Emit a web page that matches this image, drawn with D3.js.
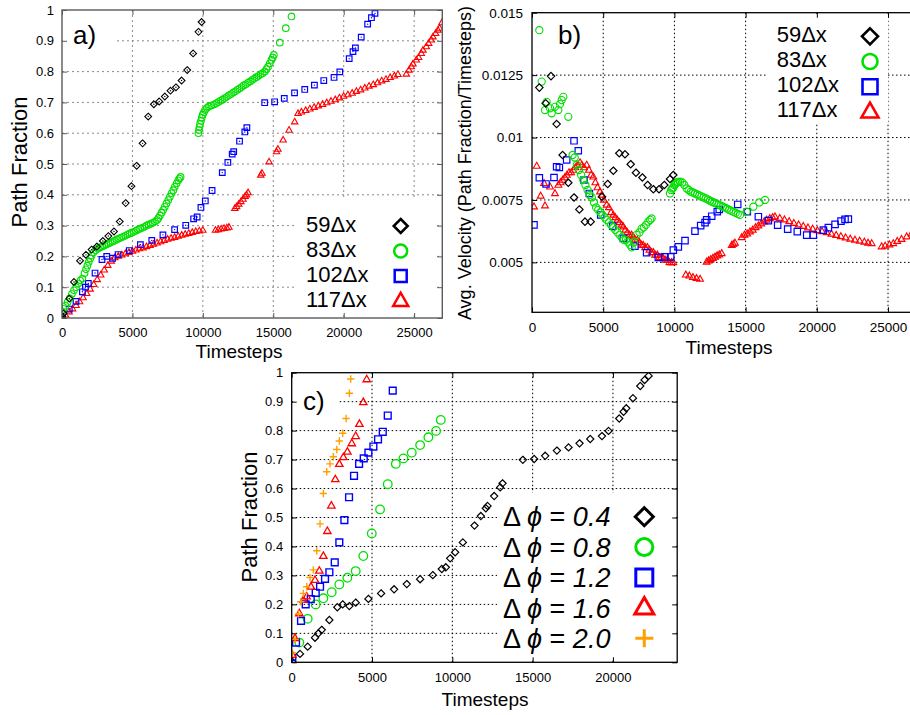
<!DOCTYPE html>
<html>
<head>
<meta charset="utf-8">
<script src="https://cdn.jsdelivr.net/npm/d3@7"></script>
<style>
  body { margin: 0; background: #fff; }
  svg { display: block; }
</style>
</head>
<body>
<script>
// ---------- data: [timestep, value] ----------

// a) path fraction vs. timesteps for four domain sizes
const frac59 = [[0,0.005],[100,0.015],[520,0.063],[850,0.117],[1280,0.186],[1700,0.205],[2100,0.222],[2480,0.232],[2900,0.25],[3290,0.266],[3690,0.281],[4100,0.313],[4520,0.373],[4930,0.428],[5300,0.494],[5720,0.567],[6120,0.654],[6520,0.694],[6900,0.703],[7300,0.719],[7700,0.738],[8090,0.749],[8490,0.771],[8890,0.805],[9310,0.859],[9690,0.929],[9910,0.961]];

const frac83 = [[0,0.02],[100,0.03],[250,0.04],[400,0.052],[550,0.064],[700,0.078],[850,0.09],[1000,0.1],[1150,0.112],[1300,0.122],[1450,0.128],[1600,0.145],[1700,0.158],[1800,0.17],[1900,0.182],[2000,0.193],[2100,0.203],[2250,0.213],[2400,0.22],[2550,0.225],[2700,0.229],[2850,0.232],[3000,0.235],[3150,0.239],[3300,0.242],[3450,0.245],[3600,0.248],[3750,0.251],[3900,0.255],[4050,0.258],[4200,0.261],[4350,0.264],[4500,0.267],[4650,0.271],[4800,0.274],[4950,0.277],[5100,0.28],[5250,0.283],[5400,0.287],[5550,0.29],[5700,0.293],[5850,0.296],[6000,0.3],[6150,0.303],[6300,0.306],[6450,0.309],[6600,0.313],[6750,0.318],[6850,0.325],[6950,0.333],[7070,0.342],[7180,0.351],[7300,0.361],[7420,0.372],[7540,0.383],[7660,0.394],[7780,0.405],[7900,0.415],[8010,0.426],[8130,0.437],[8250,0.447],[8340,0.453],[8420,0.458],
[9680,0.6],[9720,0.61],[9760,0.62],[9800,0.63],[9860,0.64],[9920,0.65],[9990,0.66],[10070,0.668],[10160,0.675],[10280,0.682],[10430,0.687],[10600,0.69],[10780,0.693],[10950,0.697],[11100,0.701],[11250,0.705],[11400,0.709],[11550,0.714],[11700,0.718],[11850,0.723],[12000,0.727],[12150,0.732],[12300,0.736],[12450,0.741],[12600,0.745],[12750,0.75],[12900,0.755],[13050,0.759],[13200,0.764],[13350,0.768],[13500,0.773],[13650,0.777],[13800,0.782],[13950,0.786],[14100,0.791],[14250,0.795],[14400,0.8],[14520,0.808],[14630,0.816],[14750,0.827],[14870,0.838],[14960,0.846],[15040,0.854],[15460,0.894],[15890,0.941],[16290,0.979]];

// 102Δx run (also the Δφ = 0.4 case in panel c)
const frac102 = [[40,0.002],[517,0.029],[995,0.054],[1450,0.085],[1660,0.1],[1870,0.112],[2345,0.146],[2840,0.19],[3175,0.2],[3590,0.194],[3985,0.206],[4775,0.219],[5565,0.238],[6375,0.252],[7165,0.27],[7995,0.287],[8785,0.301],[9345,0.322],[9595,0.328],[9865,0.359],[10175,0.38],[10655,0.414],[11380,0.472],[11775,0.505],[12085,0.532],[12190,0.54],[12605,0.574],[12980,0.604],[13125,0.618],[14390,0.699],[15095,0.702],[15780,0.713],[16510,0.731],[17235,0.742],[17920,0.756],[18585,0.771],[19315,0.781],[19725,0.799],[20390,0.842],[20660,0.865],[20830,0.877],[21245,0.912],[21700,0.954],[21970,0.975],[22220,0.989]];

const frac117 = [[0,0],[250,0.01],[500,0.02],[750,0.03],[1000,0.041],[1250,0.053],[1500,0.066],[1750,0.08],[2000,0.094],[2250,0.109],[2500,0.125],[2750,0.14],[3000,0.156],[3250,0.171],[3500,0.185],[3750,0.196],[4000,0.201],[4250,0.205],[4500,0.209],[4750,0.213],[5000,0.217],[5250,0.221],[5500,0.225],[5750,0.228],[6000,0.232],[6250,0.236],[6500,0.24],[6750,0.244],[7000,0.248],[7250,0.252],[7500,0.256],[7750,0.259],[8000,0.262],[8250,0.266],[8500,0.269],[8750,0.272],[9000,0.275],[9250,0.278],[9500,0.281],[9750,0.283],[10000,0.285],
[10900,0.285],[11100,0.287],[11300,0.289],[11500,0.291],[11700,0.293],[11850,0.295],
[12270,0.356],[12400,0.362],[12550,0.37],[12700,0.378],[12850,0.386],[13000,0.395],[13100,0.4],[13210,0.407],
[14110,0.464],[14200,0.47],[14700,0.507],[15230,0.54],[15330,0.548],[15700,0.578],[16120,0.61],[16520,0.637],[16760,0.664],
[17000,0.669],[17300,0.674],[17600,0.679],[17900,0.684],[18200,0.689],[18500,0.694],[18800,0.699],[19100,0.704],[19400,0.709],[19700,0.715],[20000,0.72],[20300,0.725],[20600,0.73],[20900,0.736],[21200,0.741],[21500,0.747],[21800,0.753],[22100,0.758],[22400,0.764],[22700,0.77],[23000,0.775],[23300,0.781],[23600,0.786],[23850,0.791],
[24445,0.792],[24635,0.805],[24800,0.816],[24915,0.825],[25155,0.838],[25320,0.846],[25510,0.859],[25625,0.87],[25865,0.881],[26030,0.892],[26220,0.903],[26335,0.913],[26525,0.924],[26690,0.935],[26810,0.941],[26970,0.959]];

// b) average velocity vs. timesteps
const vel59 = [[515,0.012],[960,0.01137],[1335,0.01246],[1730,0.01054],[2150,0.0093],[2550,0.00819],[2950,0.0076],[3325,0.00712],[3720,0.00663],[4120,0.00663],[4915,0.00763],[5315,0.00814],[5710,0.00867],[6130,0.00937],[6530,0.00933],[6930,0.00893],[7300,0.00859],[7750,0.0084],[8120,0.0081],[8520,0.00793],[8920,0.00793],[9290,0.0081],[9690,0.00834],[9920,0.0085]];

const vel83 = [[515,0.0143],[680,0.01224],[913,0.0111],[1030,0.01143],[1264,0.01117],[1380,0.01097],[1615,0.01123],[1850,0.0111],[1966,0.01134],[2085,0.0115],[2200,0.01163],[2550,0.01083],
[2850,0.0093],[3000,0.0092],[3150,0.0089],[3300,0.0087],[3450,0.0085],[3600,0.0083],[3750,0.0081],[3900,0.0079],[4050,0.0077],[4200,0.0076],[4350,0.0074],[4500,0.0072],[4650,0.0071],[4800,0.007],[4950,0.0069],[5100,0.0068],[5250,0.0067],[5400,0.0066],[5550,0.0065],[5700,0.0064],[5850,0.0063],[6000,0.0062],[6150,0.0061],[6300,0.006],[6450,0.0059],[6600,0.0059],[6750,0.0058],[6900,0.0057],[7000,0.0056],
[7150,0.0058],[7350,0.0061],[7550,0.0062],[7700,0.00635],[7850,0.0064],[8000,0.0065],[8170,0.00663],[8300,0.0067],[8400,0.00676],
[9690,0.00776],[9770,0.0079],[9850,0.00796],[9925,0.008],[10000,0.0081],[10080,0.00815],[10160,0.0082],[10250,0.00822],[10390,0.00823],[10550,0.0082],[10700,0.0081],[10860,0.00796],[11000,0.0079],[11150,0.00783],[11300,0.0078],[11450,0.00776],[11600,0.00772],[11750,0.00768],[11900,0.00764],[12050,0.0076],[12200,0.00756],[12350,0.00752],[12500,0.00747],[12650,0.00743],[12800,0.00739],[12950,0.00735],[13100,0.00731],[13250,0.00727],[13400,0.00723],[13550,0.00719],[13700,0.00715],[13850,0.0071],[14000,0.00706],[14150,0.00702],[14300,0.00698],[14450,0.00694],[14600,0.0069],[15070,0.00703],[15540,0.00723],[15960,0.0074],[16360,0.0075]];

const vel102 = [[140,0.0065],[515,0.00839],[985,0.00814],[1545,0.0084],[1730,0.00883],[1920,0.0088],[2435,0.0091],[2950,0.00987],[3250,0.00947],[3650,0.0083],[4025,0.00776],[4825,0.0069],[5665,0.00645],[6415,0.00596],[7230,0.00565],[8050,0.00539],[8870,0.0052],[9340,0.00522],[9740,0.00522],[9925,0.00549],[10275,0.00562],[10745,0.00587],[11445,0.00625],[11845,0.00647],[12150,0.00659],[12265,0.0067],[12620,0.00685],[13010,0.00703],[13150,0.00712],[14445,0.00732],[15120,0.00703],[15895,0.00683],[16600,0.00667],[17250,0.00649],[17955,0.00633],[18630,0.00623],[19290,0.00609],[19755,0.00609],[20460,0.00629],[20810,0.00639],[21280,0.00652],[21700,0.00665],[21980,0.00672],[22215,0.00673]];

const vel117 = [[140,0.00723],[330,0.00886],[610,0.00766],[845,0.00817],[915,0.00727],[1265,0.00803],[1615,0.00776],
[1850,0.0081],[2000,0.0082],[2150,0.0083],[2300,0.0084],[2450,0.0085],[2600,0.0086],[2750,0.0086],[2900,0.0087],[3050,0.0088],[3200,0.0089],[3370,0.009],[3500,0.0089],[3650,0.0088],[3840,0.0089],[4000,0.0087],[4150,0.0085],[4305,0.00843],[4450,0.0082],[4600,0.008],[4775,0.00783],[4900,0.0077],[5050,0.0075],[5245,0.0073],[5400,0.0072],[5550,0.007],[5710,0.0069],[5850,0.0068],[6000,0.0067],[6150,0.0066],[6300,0.0065],[6415,0.00643],[6550,0.0063],[6700,0.0062],[6850,0.0061],[7000,0.0061],[7115,0.00603],[7250,0.0059],[7400,0.0059],[7550,0.0058],[7700,0.0057],[7815,0.00569],[7950,0.0056],[8100,0.0056],[8250,0.0055],[8400,0.0054],[8520,0.0054],[8650,0.0053],[8800,0.0053],[8950,0.0052],[9100,0.0052],[9220,0.00516],[9350,0.0051],[9500,0.0051],[9650,0.005],[9800,0.005],[9925,0.005],
[10800,0.0045],[11050,0.00446],[11300,0.0044],[11550,0.00436],[11800,0.00433],
[12265,0.00502],[12400,0.00507],[12550,0.00512],[12700,0.00517],[12850,0.00522],[13000,0.00527],[13150,0.00531],[13320,0.00536],
[14025,0.00569],[14140,0.00573],[14255,0.00578],
[14725,0.006],[14920,0.0061],[15110,0.00615],[15310,0.00623],[15500,0.0063],[15700,0.0064],[15895,0.00647],[16100,0.00655],[16300,0.00663],[16480,0.0067],[16700,0.00676],[16900,0.0068],[17065,0.00683],[17400,0.00677],[17730,0.00671],[18060,0.00664],[18390,0.00657],[18720,0.00651],[19050,0.00645],[19380,0.00639],[19710,0.00634],[20040,0.00628],[20370,0.00624],[20700,0.0062],[21030,0.00614],[21360,0.00609],[21690,0.00604],[22020,0.00599],[22350,0.00594],[22680,0.0059],[23010,0.00586],[23340,0.00582],[23600,0.00578],[23855,0.00576],
[24555,0.00563],[24800,0.00566],[25100,0.00571],[25370,0.00576],[25650,0.00585],[25950,0.00593],[26310,0.00603],[26650,0.00615]];

// c) path fraction vs. timesteps for several Δφ (Δφ = 0.4 is frac102)
const fracPhi08 = [[475,0.068],[995,0.15],[1495,0.2],[1970,0.221],[2490,0.242],[2965,0.269],[3465,0.292],[3985,0.315],[4460,0.367],[4985,0.445],[5500,0.528],[5980,0.615],[6480,0.685],[6955,0.704],[7475,0.724],[7995,0.75],[8510,0.777],[8990,0.799],[9280,0.837]];
const fracPhi12 = [[40,0.019],[270,0.068],[580,0.143],[870,0.2],[1185,0.218],[1495,0.24],[1765,0.261],[2075,0.288],[2345,0.311],[2680,0.345],[2965,0.414],[3280,0.491],[3570,0.57],[3880,0.644],[4195,0.685],[4485,0.704],[4775,0.724],[5085,0.745],[5375,0.77],[5670,0.796],[5980,0.852],[6290,0.938]];
const fracPhi16 = [[40,0.025],[205,0.083],[475,0.169],[725,0.215],[935,0.227],[1200,0.261],[1450,0.284],[1720,0.316],[1970,0.367],[2220,0.453],[2470,0.541],[2715,0.632],[2965,0.685],[3215,0.708],[3465,0.727],[3740,0.756],[3985,0.781],[4215,0.823],[4460,0.898],[4670,0.977]];
const fracPhi20 = [[40,0.031],[205,0.079],[415,0.167],[560,0.209],[725,0.238],[935,0.261],[1140,0.293],[1345,0.319],[1560,0.385],[1765,0.478],[1970,0.583],[2180,0.658],[2385,0.685],[2590,0.71],[2805,0.735],[2965,0.764],[3175,0.791],[3385,0.842],[3590,0.929],[3675,0.978]];

// axis ticks
const stepTicksA = [0, 5000, 10000, 15000, 20000, 25000];
const stepTicksC = [0, 5000, 10000, 15000, 20000];
const fracTicks = [0, 0.1, 0.2, 0.3, 0.4, 0.5, 0.6, 0.7, 0.8, 0.9, 1];
const velTicks = [0.005, 0.0075, 0.01, 0.0125, 0.015];

// legend entries
const sizeLabels = ["59Δx", "83Δx", "102Δx", "117Δx"];
const phiLabels = ["0.4", "0.8", "1.2", "1.6", "2.0"];

// ---------- drawing ----------
const FONT = '"Liberation Sans", Arial, Helvetica, sans-serif';
const C = { black: "#000000", green: "#00e000", blue: "#0000ff", red: "#ff0000", orange: "#ffa000" };

const svg = d3.select("body").append("svg").attr("width", 910).attr("height", 715);

function shapePath(type, cx, cy, s) {
  switch (type) {
    case "diamond": return `M${cx},${cy - s}L${cx + s},${cy}L${cx},${cy + s}L${cx - s},${cy}Z`;
    case "square": return `M${cx - s},${cy - s}h${2 * s}v${2 * s}h${-2 * s}Z`;
    case "triangle": return `M${cx},${cy - s * 1.1}L${cx + s},${cy + s * 0.65}L${cx - s},${cy + s * 0.65}Z`;
    case "plus": return `M${cx - s},${cy}H${cx + s}M${cx},${cy - s}V${cy + s}`;
    case "circle": return `M${cx - s},${cy}a${s},${s} 0 1,0 ${2 * s},0a${s},${s} 0 1,0 ${-2 * s},0Z`;
  }
}

function setupPanel(id, x, y, o) {
  const g = svg.append("g");
  const [xl, xr] = x.range();
  const [yb, yt] = y.range();
  g.append("clipPath").attr("id", "clip-" + id)
    .append("rect").attr("x", xl).attr("y", yt).attr("width", xr - xl).attr("height", yb - yt);

  // dotted grid
  const grid = g.append("g").attr("stroke", o.gridColor).attr("stroke-width", 1)
    .attr("stroke-dasharray", o.gridDash);
  grid.selectAll("line.v").data(o.xGrid).join("line").attr("class", "v")
    .attr("x1", d => x(d)).attr("x2", d => x(d)).attr("y1", yt).attr("y2", yb);
  grid.selectAll("line.h").data(o.yGrid).join("line").attr("class", "h")
    .attr("x1", xl).attr("x2", xr).attr("y1", d => y(d)).attr("y2", d => y(d));

  // white backgrounds behind panel tag and key
  o.boxes.forEach(b => g.append("rect").attr("x", b[0]).attr("y", b[1])
    .attr("width", b[2] - b[0]).attr("height", b[3] - b[1]).attr("fill", "#fff"));

  const tickStyle = sel => {
    sel.select(".domain").remove();
    sel.selectAll(".tick line").attr("stroke", o.frameColor);
    sel.attr("font-family", FONT).attr("font-size", o.tickFont);
    sel.selectAll(".tick text").attr("fill", "#000");
  };
  g.append("g").attr("transform", `translate(0,${yb})`)
    .call(d3.axisBottom(x).tickValues(o.xTicks).tickSize(-5).tickPadding(o.xPad).tickFormat(d3.format("d")))
    .call(tickStyle);
  g.append("g").attr("transform", `translate(${xl},0)`)
    .call(d3.axisLeft(y).tickValues(o.yTicks).tickSize(-5).tickPadding(o.yPad).tickFormat(d3.format("~g")))
    .call(tickStyle);
  g.append("g").attr("transform", `translate(0,${yt})`)
    .call(d3.axisTop(x).tickValues(o.xTicks).tickSize(-5).tickFormat(""))
    .call(tickStyle);
  g.append("g").attr("transform", `translate(${xr},0)`)
    .call(d3.axisRight(y).tickValues(o.yTicks).tickSize(-5).tickFormat(""))
    .call(tickStyle);

  const plot = g.append("g").attr("clip-path", `url(#clip-${id})`);
  const frame = g.append("rect").attr("x", xl).attr("y", yt).attr("width", xr - xl).attr("height", yb - yt)
    .attr("fill", "none").attr("stroke", o.frameColor).attr("stroke-width", o.frameWidth);
  return { g, plot, frame };
}

function plotSeries(layer, data, x, y, shape, s, color, sw, dot) {
  const gs = layer.append("g");
  gs.selectAll("path").data(data).join("path")
    .attr("d", d => shapePath(shape, x(d[0]), y(d[1]), s))
    .attr("fill", "none").attr("stroke", color).attr("stroke-width", sw)
    .attr("stroke-linejoin", "miter");
  if (dot) {
    gs.selectAll("circle").data(data).join("circle")
      .attr("cx", d => x(d[0])).attr("cy", d => y(d[1])).attr("r", 0.7).attr("fill", color);
  }
}

function addText(g, str, x, y, size, opts = {}) {
  const t = g.append("text").attr("x", x).attr("y", y).attr("font-family", FONT)
    .attr("font-size", size).attr("fill", "#000");
  if (opts.anchor) t.attr("text-anchor", opts.anchor);
  if (opts.rotate) t.attr("transform", `rotate(-90,${x},${y})`);
  t.text(str);
  return t;
}

// ----- panel a -----
{
  const x = d3.scaleLinear().domain([0, 27000]).range([62, 442.3]);
  const y = d3.scaleLinear().domain([0, 1]).range([318, 10]);
  const p = setupPanel("a", x, y, {
    xTicks: stepTicksA, yTicks: fracTicks, xGrid: stepTicksA.slice(1), yGrid: fracTicks.slice(1, -1),
    gridColor: "#8a8a8a", gridDash: "2,3", frameColor: "#5a5a5a", frameWidth: 1.4,
    tickFont: 13, xPad: 10, yPad: 8,
    boxes: [[63, 18, 117, 56], [296, 200, 436, 312]]
  });
  plotSeries(p.plot, frac117, x, y, "triangle", 3.2, C.red, 1.1, false);
  plotSeries(p.plot, frac102, x, y, "square", 2.8, C.blue, 1.2, true);
  plotSeries(p.plot, frac83, x, y, "circle", 3.3, C.green, 1.1, false);
  plotSeries(p.plot, frac59, x, y, "diamond", 3.4, C.black, 1.1, true);

  addText(p.g, "a)", 73, 44, 26);
  addText(p.g, "Path Fraction", 27, 162, 22, { anchor: "middle", rotate: true });
  addText(p.g, "Timesteps", 239, 358, 19, { anchor: "middle" });

  const keyShapes = [["diamond", C.black, 7], ["circle", C.green, 6.5], ["square", C.blue, 6], ["triangle", C.red, 7.5]];
  sizeLabels.forEach((lab, i) => {
    addText(p.g, lab, 306, 231.7 + 25 * i, 22);
    const k = keyShapes[i];
    p.g.append("path").attr("d", shapePath(k[0], 400.7, 226 + 25 * i, k[2]))
      .attr("fill", "none").attr("stroke", k[1]).attr("stroke-width", 2.5);
  });
}

// ----- panel b -----
{
  const x = d3.scaleLinear().domain([0, 27000]).range([532, 916.5]);
  const y = d3.scaleLinear().domain([0.003, 0.015]).range([312.3, 12.7]);
  const p = setupPanel("b", x, y, {
    xTicks: stepTicksA, yTicks: velTicks, xGrid: stepTicksA.slice(1), yGrid: velTicks.slice(0, -1),
    gridColor: "#000", gridDash: "1.5,2.5", frameColor: "#000", frameWidth: 1.3,
    tickFont: 13.5, xPad: 10, yPad: 9,
    boxes: [[768, 14, 888, 123]]
  });
  plotSeries(p.plot, vel117, x, y, "triangle", 3.4, C.red, 1.1, false);
  plotSeries(p.plot, vel102, x, y, "square", 3.2, C.blue, 1.2, false);
  plotSeries(p.plot, vel83, x, y, "circle", 3.6, C.green, 1.1, false);
  plotSeries(p.plot, vel59, x, y, "diamond", 3.7, C.black, 1.2, false);

  addText(p.g, "b)", 558, 43.5, 26);
  addText(p.g, "Avg. Velocity (Path Fraction/Timesteps)", 471, 163, 18, { anchor: "middle", rotate: true });
  addText(p.g, "Timesteps", 729, 354, 19, { anchor: "middle" });

  const keyShapes = [["diamond", C.black, 8], ["circle", C.green, 7.5], ["square", C.blue, 7.5], ["triangle", C.red, 8.5]];
  sizeLabels.forEach((lab, i) => {
    addText(p.g, lab, 776.7, 41.7 + 25 * i, 22);
    const k = keyShapes[i];
    p.g.append("path").attr("d", shapePath(k[0], 870, 36.3 + 25.2 * i, k[2]))
      .attr("fill", "none").attr("stroke", k[1]).attr("stroke-width", 2.6);
  });
}

// ----- panel c -----
{
  const x = d3.scaleLinear().domain([0, 24000]).range([291.7, 677.2]);
  const y = d3.scaleLinear().domain([0, 1]).range([662.3, 372.7]);
  const p = setupPanel("c", x, y, {
    xTicks: stepTicksC, yTicks: fracTicks, xGrid: stepTicksC.slice(1), yGrid: fracTicks.slice(1, -1),
    gridColor: "#000", gridDash: "1.5,2.5", frameColor: "#000", frameWidth: 1.3,
    tickFont: 13, xPad: 10.5, yPad: 8.5,
    boxes: [[293, 384, 338, 420], [497, 493, 676, 660]]
  });
  plotSeries(p.plot, frac102, x, y, "diamond", 3.6, C.black, 1.2, false);
  plotSeries(p.plot, fracPhi08, x, y, "circle", 4.3, C.green, 1.3, false);
  plotSeries(p.plot, fracPhi12, x, y, "square", 3.4, C.blue, 1.4, false);
  plotSeries(p.plot, fracPhi16, x, y, "triangle", 3.7, C.red, 1.3, false);
  plotSeries(p.plot, fracPhi20, x, y, "plus", 3.7, C.orange, 1.4, false);

  addText(p.g, "c)", 303, 410, 26);
  addText(p.g, "Path Fraction", 257, 517, 22, { anchor: "middle", rotate: true });
  addText(p.g, "Timesteps", 485, 706, 19, { anchor: "middle" });

  const keyShapes = [["diamond", C.black, 9], ["circle", C.green, 8.5], ["square", C.blue, 8.5], ["triangle", C.red, 9.5], ["plus", C.orange, 9]];
  phiLabels.forEach((lab, i) => {
    const t = p.g.append("text").attr("x", 503).attr("y", 526 + 30.5 * i)
      .attr("font-family", FONT).attr("font-size", 27).attr("fill", "#000");
    t.append("tspan").text("Δ ");
    t.append("tspan").attr("font-style", "italic").text("ϕ");
    t.append("tspan").text(" = ");
    t.append("tspan").attr("font-style", "italic").text(lab);
    const k = keyShapes[i];
    p.g.append("path").attr("d", shapePath(k[0], 644.3, 516.7 + 30.4 * i, k[2]))
      .attr("fill", "none").attr("stroke", k[1]).attr("stroke-width", 3);
  });
}
</script>
</body>
</html>
